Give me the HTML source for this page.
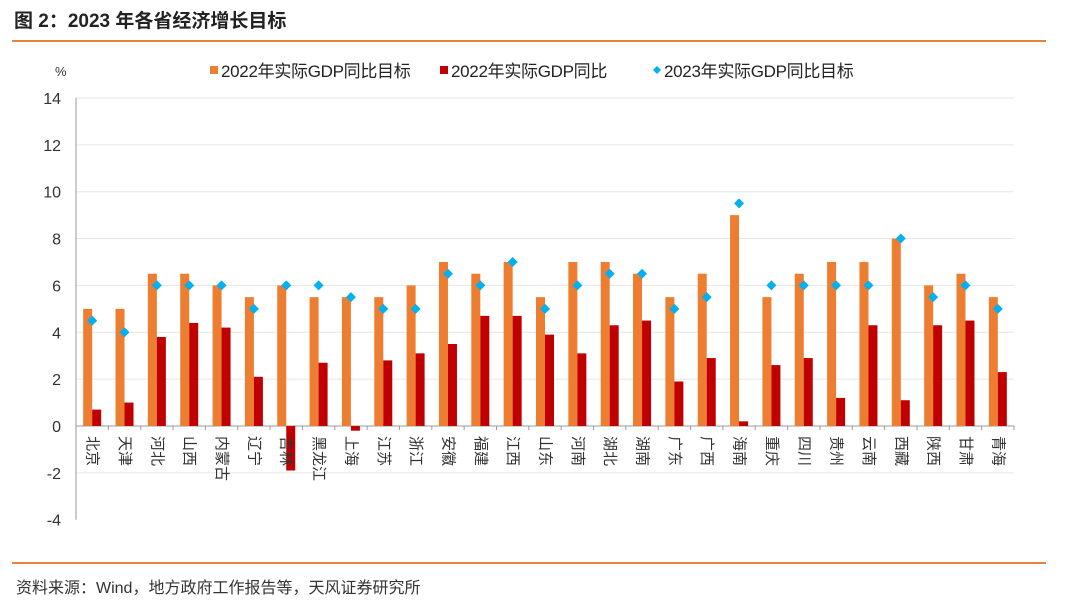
<!DOCTYPE html>
<html><head><meta charset="utf-8"><style>
body{margin:0;width:1080px;height:606px;background:#fff;overflow:hidden;font-family:"Liberation Sans","Noto Sans CJK SC",sans-serif}
</style></head><body>
<div style="position:absolute;left:14px;top:6px;font-size:19px;font-weight:bold;color:#222">图 2：2023 年各省经济增长目标</div>
<div style="position:absolute;left:12px;top:40px;width:1034px;height:2px;background:#e8823a"></div>
<div style="position:absolute;left:12px;top:562px;width:1034px;height:2px;background:#e8823a"></div>
<div style="position:absolute;left:16px;top:574px;font-size:16px;color:#333">资料来源：Wind，地方政府工作报告等，天风证券研究所</div>
<svg id="c" width="1080" height="606" style="position:absolute;left:0;top:0" font-family="Liberation Sans, Noto Sans CJK SC, sans-serif"></svg>
<script>
const categories=["北京","天津","河北","山西","内蒙古","辽宁","吉林","黑龙江","上海","江苏","浙江","安徽","福建","江西","山东","河南","湖北","湖南","广东","广西","海南","重庆","四川","贵州","云南","西藏","陕西","甘肃","青海"];
const target2022=[5,5,6.5,6.5,6,5.5,6,5.5,5.5,5.5,6,7,6.5,7,5.5,7,7,6.5,5.5,6.5,9,5.5,6.5,7,7,8,6,6.5,5.5];
const actual2022=[0.7,1.0,3.8,4.4,4.2,2.1,-1.9,2.7,-0.2,2.8,3.1,3.5,4.7,4.7,3.9,3.1,4.3,4.5,1.9,2.9,0.2,2.6,2.9,1.2,4.3,1.1,4.3,4.5,2.3];
const target2023=[4.5,4,6,6,6,5,6,6,5.5,5,5,6.5,6,7,5,6,6.5,6.5,5,5.5,9.5,6,6,6,6,8,5.5,6,5];
const yTicks=[14,12,10,8,6,4,2,0,-2,-4];
const svg=document.getElementById('c');const NS='http://www.w3.org/2000/svg';
const X0=76,X1=1014,Y0=426,U=23.43;
const y=v=>Y0-v*U;const cw=(X1-X0)/categories.length;const cx=i=>X0+cw*(i+0.5);
function mk(t,a,p){const e=document.createElementNS(NS,t);for(const k in a)e.setAttribute(k,a[k]);(p||svg).appendChild(e);return e;}
yTicks.forEach(t=>{
 if(t!==0&&t!==-4){const g=mk('line',{x1:X0,x2:X1,y1:y(t),y2:y(t),stroke:'#e6e6e6','stroke-width':1});
 
 }
 const tl=mk('text',{x:61,y:y(t)+6,'text-anchor':'end','font-size':16,fill:'#333'});tl.textContent=t;
 
 
});
const ax=mk('line',{x1:X0,x2:X0,y1:y(14),y2:y(-4),stroke:'#999'});


const xa=mk('line',{x1:X0,x2:X1,y1:Y0,y2:Y0,stroke:'#999'});


const pu=mk('text',{x:55,y:76,'font-size':13,fill:'#333'});pu.textContent='%';


const bw=9;
categories.forEach((c,i)=>{
 const tk=mk('line',{x1:X0+cw*(i+1),x2:X0+cw*(i+1),y1:Y0,y2:Y0+4,stroke:'#999'});
 
 
 const v=target2022[i];
 const b=mk('rect',{x:cx(i)-bw,y:Math.min(y(v),Y0),width:bw,height:Math.abs(v*U),fill:'#ed7d31'});
 
 
 const a=actual2022[i];
 const r=mk('rect',{x:cx(i),y:Math.min(y(a),Y0),width:bw,height:Math.abs(a*U),fill:'#c00000'});
 
 
 const d=target2023[i],dx=cx(i),dy=y(d);
 const p=mk('polygon',{points:`${dx},${dy-5} ${dx+5},${dy} ${dx},${dy+5} ${dx-5},${dy}`,fill:'#00b0f0'});
 
 
 const lx=cx(i),ly=436;
 const t=mk('text',{x:lx,y:ly,'font-size':15,fill:'#333',transform:`rotate(90 ${lx} ${ly})`,'dominant-baseline':'central'});
 t.textContent=c;
 
 
});
const leg=[['#ed7d31','2022年实际GDP同比目标',210,'rect'],['#c00000','2022年实际GDP同比',440,'rect'],['#00b0f0','2023年实际GDP同比目标',653,'dia']];
leg.forEach(l=>{
 const g=mk('g',{});
 
 
 if(l[3]==='rect')mk('rect',{x:l[2],y:66,width:8,height:8,fill:l[0]},g);
 else mk('polygon',{points:`${l[2]+4},${66} ${l[2]+8},${70} ${l[2]+4},${74} ${l[2]},${70}`,fill:l[0]},g);
 const t=mk('text',{x:l[2]+11,y:77,'font-size':17,fill:'#222','letter-spacing':'-0.3'},g);t.textContent=l[1];
});
</script>
</body></html>
